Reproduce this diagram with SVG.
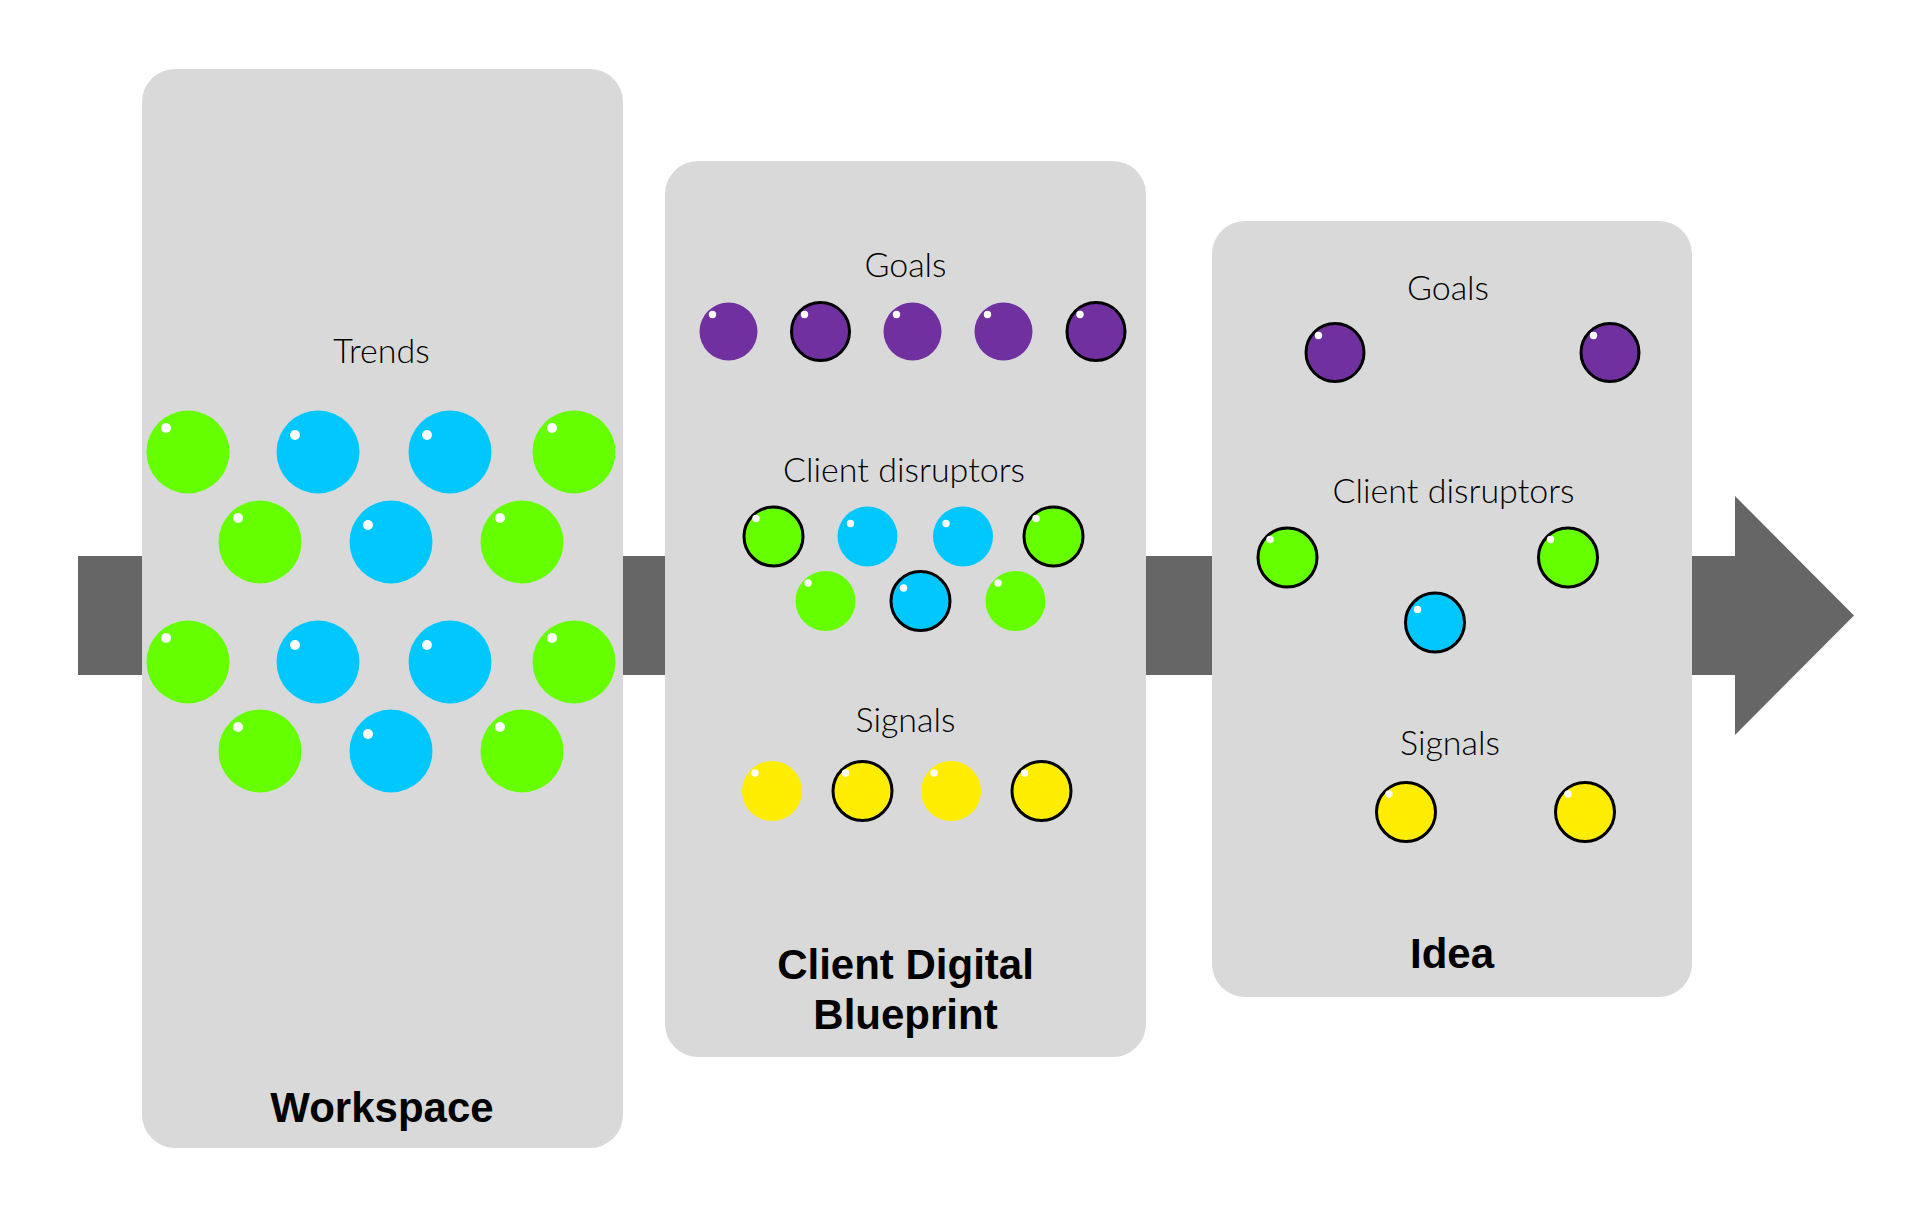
<svg xmlns="http://www.w3.org/2000/svg" width="1913" height="1226" viewBox="0 0 1913 1226">
<style>
.panel{fill:#D9D9D9}
.bar{fill:#666666}
.g{fill:#66FF00}
.b{fill:#00C8FF}
.p{fill:#7030A0}
.y{fill:#FFED00}
.s{stroke:#000000;stroke-width:3}
.hl{fill:#FFFFFF}
.lbl{font-family:Lato,Roboto,"Open Sans","Liberation Sans",sans-serif;font-weight:300;font-size:34px;fill:#000;text-anchor:middle}
.ttl{font-family:"Liberation Sans",Arial,sans-serif;font-weight:bold;font-size:42px;fill:#000;text-anchor:middle}
</style>
<rect width="1913" height="1226" fill="#FFFFFF"/>
<g id="connectors">
  <rect class="bar" x="78" y="556" width="1658" height="119"/>
  <polygon class="bar" points="1735,496 1854,615.5 1735,735"/>
</g>
<g id="workspace">
  <rect class="panel" x="142" y="69" width="481" height="1079" rx="33" ry="33"/>
  <text class="lbl" x="381.5" y="363">Trends</text>
  <circle class="g" cx="188" cy="452" r="41.5"/><circle class="hl" cx="166" cy="428" r="5"/>
  <circle class="b" cx="318" cy="452" r="41.5"/><circle class="hl" cx="295" cy="435" r="5"/>
  <circle class="b" cx="450" cy="452" r="41.5"/><circle class="hl" cx="427" cy="435" r="5"/>
  <circle class="g" cx="574" cy="452" r="41.5"/><circle class="hl" cx="552" cy="428" r="5"/>
  <circle class="g" cx="260" cy="542" r="41.5"/><circle class="hl" cx="238" cy="518" r="5"/>
  <circle class="b" cx="391" cy="542" r="41.5"/><circle class="hl" cx="368" cy="525" r="5"/>
  <circle class="g" cx="522" cy="542" r="41.5"/><circle class="hl" cx="500" cy="518" r="5"/>
  <circle class="g" cx="188" cy="662" r="41.5"/><circle class="hl" cx="166" cy="638" r="5"/>
  <circle class="b" cx="318" cy="662" r="41.5"/><circle class="hl" cx="295" cy="645" r="5"/>
  <circle class="b" cx="450" cy="662" r="41.5"/><circle class="hl" cx="427" cy="645" r="5"/>
  <circle class="g" cx="574" cy="662" r="41.5"/><circle class="hl" cx="552" cy="638" r="5"/>
  <circle class="g" cx="260" cy="751" r="41.5"/><circle class="hl" cx="238" cy="727" r="5"/>
  <circle class="b" cx="391" cy="751" r="41.5"/><circle class="hl" cx="368" cy="734" r="5"/>
  <circle class="g" cx="522" cy="751" r="41.5"/><circle class="hl" cx="500" cy="727" r="5"/>
  <text class="ttl" x="382" y="1122">Workspace</text>
</g>
<g id="client-digital-blueprint">
  <rect class="panel" x="665" y="161" width="481" height="896" rx="33" ry="33"/>
  <text class="lbl" x="905.5" y="277">Goals</text>
  <circle class="p" cx="728.5" cy="331.5" r="29"/><circle class="hl" cx="712.5" cy="314.5" r="3.7"/>
  <circle class="p s" cx="820.5" cy="331.5" r="29"/><circle class="hl" cx="804.5" cy="314.5" r="3.7"/>
  <circle class="p" cx="912.5" cy="331.5" r="29"/><circle class="hl" cx="896.5" cy="314.5" r="3.7"/>
  <circle class="p" cx="1003.5" cy="331.5" r="29"/><circle class="hl" cx="987.5" cy="314.5" r="3.7"/>
  <circle class="p s" cx="1096" cy="331.5" r="29"/><circle class="hl" cx="1080" cy="314.5" r="3.7"/>
  <text class="lbl" x="904" y="482">Client disruptors</text>
  <circle class="g s" cx="773.5" cy="536.5" r="29.5"/><circle class="hl" cx="756" cy="518.5" r="3.7"/>
  <circle class="b" cx="867.5" cy="536.5" r="30"/><circle class="hl" cx="850.5" cy="523.5" r="3.7"/>
  <circle class="b" cx="963" cy="536.5" r="30"/><circle class="hl" cx="946" cy="523.5" r="3.7"/>
  <circle class="g s" cx="1053.5" cy="536.5" r="29.5"/><circle class="hl" cx="1036" cy="518.5" r="3.7"/>
  <circle class="g" cx="825.5" cy="601" r="30"/><circle class="hl" cx="808" cy="583" r="3.7"/>
  <circle class="b s" cx="920.5" cy="601" r="29.5"/><circle class="hl" cx="903.5" cy="588" r="3.7"/>
  <circle class="g" cx="1015.5" cy="601" r="30"/><circle class="hl" cx="998" cy="583" r="3.7"/>
  <text class="lbl" x="905.5" y="732">Signals</text>
  <circle class="y" cx="772" cy="791" r="30"/><circle class="hl" cx="755" cy="773" r="3.7"/>
  <circle class="y s" cx="862.5" cy="791" r="29.5"/><circle class="hl" cx="845.5" cy="773" r="3.7"/>
  <circle class="y" cx="951" cy="791" r="30"/><circle class="hl" cx="934" cy="773" r="3.7"/>
  <circle class="y s" cx="1041.5" cy="791" r="29.5"/><circle class="hl" cx="1024.5" cy="773" r="3.7"/>
  <text class="ttl" x="905.5" y="979">Client Digital</text>
  <text class="ttl" x="905.5" y="1029">Blueprint</text>
</g>
<g id="idea">
  <rect class="panel" x="1212" y="221" width="480" height="776" rx="33" ry="33"/>
  <text class="lbl" x="1448" y="300">Goals</text>
  <circle class="p s" cx="1335" cy="352.5" r="29"/><circle class="hl" cx="1318.5" cy="335.5" r="3.7"/>
  <circle class="p s" cx="1610" cy="352.5" r="29"/><circle class="hl" cx="1593.5" cy="335.5" r="3.7"/>
  <text class="lbl" x="1453.5" y="503">Client disruptors</text>
  <circle class="g s" cx="1287.5" cy="557.5" r="29.5"/><circle class="hl" cx="1270" cy="539.5" r="3.7"/>
  <circle class="g s" cx="1568" cy="557.5" r="29.5"/><circle class="hl" cx="1550.5" cy="539.5" r="3.7"/>
  <circle class="b s" cx="1435" cy="622.5" r="29.5"/><circle class="hl" cx="1417.5" cy="609.5" r="3.7"/>
  <text class="lbl" x="1450" y="755">Signals</text>
  <circle class="y s" cx="1406" cy="812" r="29.5"/><circle class="hl" cx="1389" cy="794" r="3.7"/>
  <circle class="y s" cx="1585" cy="812" r="29.5"/><circle class="hl" cx="1568" cy="794" r="3.7"/>
  <text class="ttl" x="1452" y="968">Idea</text>
</g>
</svg>
